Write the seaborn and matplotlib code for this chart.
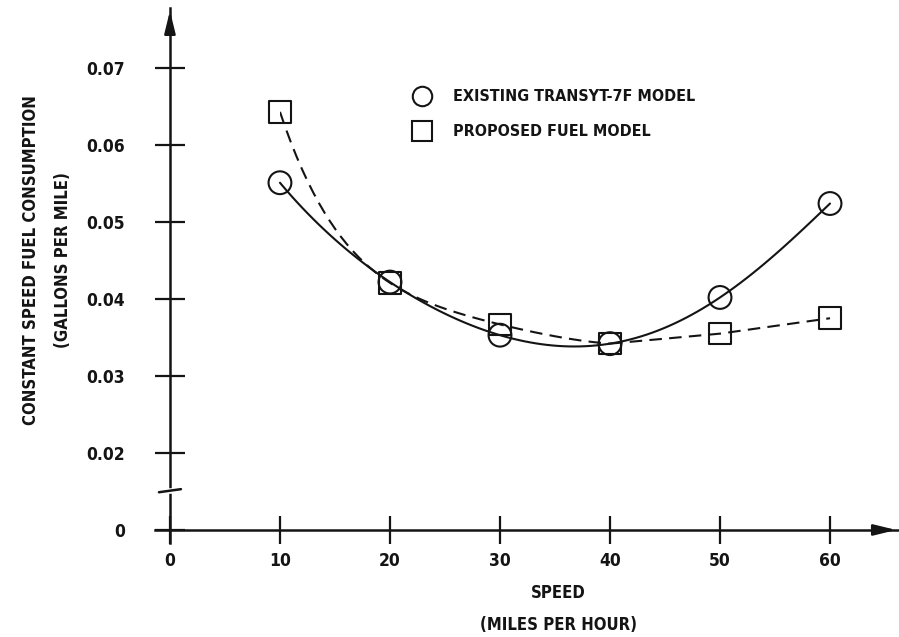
import numpy as np
import pandas as pd
import seaborn as sns
import matplotlib.pyplot as plt
from matplotlib.patches import Rectangle

# values
speed = [10, 20, 30, 40, 50, 60]
existing_fuel = [0.0551, 0.0422, 0.0353, 0.0342, 0.0402, 0.0524]
proposed_fuel = [0.0643, 0.0421, 0.0367, 0.0342, 0.0355, 0.0375]

xtick_values = [0, 10, 20, 30, 40, 50, 60]
# the y axis is broken: "0" sits one step below 0.02
ytick_values = [0.01, 0.02, 0.03, 0.04, 0.05, 0.06, 0.07]
ytick_labels = ['0', '0.02', '0.03', '0.04', '0.05', '0.06', '0.07']

existing_label = 'EXISTING TRANSYT-7F MODEL'
proposed_label = 'PROPOSED FUEL MODEL'

df = pd.DataFrame({'speed': speed, 'existing': existing_fuel, 'proposed': proposed_fuel})

sns.set_style('white')
plt.rcParams['font.family'] = ['DejaVu Sans']
plt.rcParams['font.stretch'] = 'condensed'
plt.rcParams['font.weight'] = 'bold'

ink = '#141414'
dash = (0, (6, 3.5))

fig = plt.figure(figsize=(8.99, 6.37), dpi=100)
ax = fig.add_axes([0.1724, 0.1476, 0.8276, 0.8399])

# smooth curve through the existing-model points
sns.regplot(data=df, x='speed', y='existing', order=5, ci=None, scatter=False, ax=ax,
            line_kws=dict(color=ink, lw=1.5, ls='-'))

# proposed model: smooth fit below 40 mph, nearly straight above
sns.regplot(data=df, x='speed', y='proposed', order=5, ci=None, scatter=False, ax=ax,
            line_kws=dict(color=ink, lw=1.5, ls=dash))
fit_line = ax.lines[-1]
fit_line.set_clip_path(Rectangle((df['speed'].min(), 0), 40 - df['speed'].min(), 1,
                                 transform=ax.transData))
high = df[df['speed'] >= 40]
sns.lineplot(data=high, x='speed', y='proposed', color=ink, lw=1.5, ls=dash, ax=ax)

sns.scatterplot(data=df, x='speed', y='existing', marker='o', s=270, facecolor='none',
                edgecolor=ink, linewidth=1.5, ax=ax, zorder=5)
sns.scatterplot(data=df, x='speed', y='proposed', marker='s', s=240, facecolor='none',
                edgecolor=ink, linewidth=1.5, ax=ax, zorder=5)

ax.set_xlim(-1.36, 66.27)
ax.set_ylim(0.00831, 0.0778)

ax.spines['top'].set_visible(False)
ax.spines['right'].set_visible(False)
ax.spines['left'].set_position(('data', 0))
ax.spines['bottom'].set_position(('data', 0.01))
for s in ['left', 'bottom']:
    ax.spines[s].set_linewidth(1.8)
    ax.spines[s].set_color(ink)

ax.set_xticks(xtick_values)
ax.set_yticks(ytick_values)
ax.set_yticklabels(ytick_labels)
ax.tick_params(axis='x', bottom=True, direction='inout', length=20, width=1.6, color=ink,
               labelsize=12.5, labelcolor=ink, pad=6)
ax.tick_params(axis='y', left=True, direction='inout', length=21, width=1.6, color=ink,
               labelsize=12.5, labelcolor=ink, pad=22)
for lab in ax.get_xticklabels() + ax.get_yticklabels():
    lab.set_fontweight('bold')

# arrow heads on the axes
ax.annotate('', xy=(1.0, 0.01), xytext=(0.97, 0.01), xycoords=('axes fraction', 'data'),
            arrowprops=dict(arrowstyle='-|>,head_length=0.9,head_width=0.22',
                            mutation_scale=15, color=ink, lw=1.8))
ax.annotate('', xy=(0, 1.0), xytext=(0, 0.96), xycoords=('data', 'axes fraction'),
            arrowprops=dict(arrowstyle='-|>,head_length=0.9,head_width=0.22',
                            mutation_scale=15, color=ink, lw=1.8))

# axis break mark
ax.plot([-0.3, 0.3], [0.0150, 0.0150], color='white', lw=4, solid_capstyle='butt', zorder=6,
        clip_on=False)
ax.plot([-1.0, 1.0], [0.0149, 0.0153], color=ink, lw=1.8, zorder=7, clip_on=False)

ax.set_xlabel('SPEED\n(MILES PER HOUR)', fontsize=12, fontweight='bold', color=ink,
              linespacing=2.0)
ax.xaxis.set_label_coords(0.542, -0.077, transform=ax.transAxes)
ax.xaxis.label.set_va('top')
ax.set_ylabel('CONSTANT SPEED FUEL CONSUMPTION\n(GALLONS PER MILE)', fontsize=12,
              fontweight='bold', color=ink, linespacing=2.0)
ax.yaxis.set_label_coords(-0.112, 0.529, transform=ax.transAxes)

# legend
handles = [
    plt.Line2D([], [], marker='o', ls='none', ms=14, mfc='none', mec=ink, mew=1.5),
    plt.Line2D([], [], marker='s', ls='none', ms=14, mfc='none', mec=ink, mew=1.5),
]
leg = ax.legend(handles, [existing_label, proposed_label], loc='upper left',
                bbox_to_anchor=(0.327, 0.875), frameon=False, fontsize=11.5,
                handletextpad=1.3, labelspacing=1.25, handlelength=1.2)
for t in leg.get_texts():
    t.set_fontweight('bold')
    t.set_color(ink)

fig.savefig('out.png', dpi=100)
